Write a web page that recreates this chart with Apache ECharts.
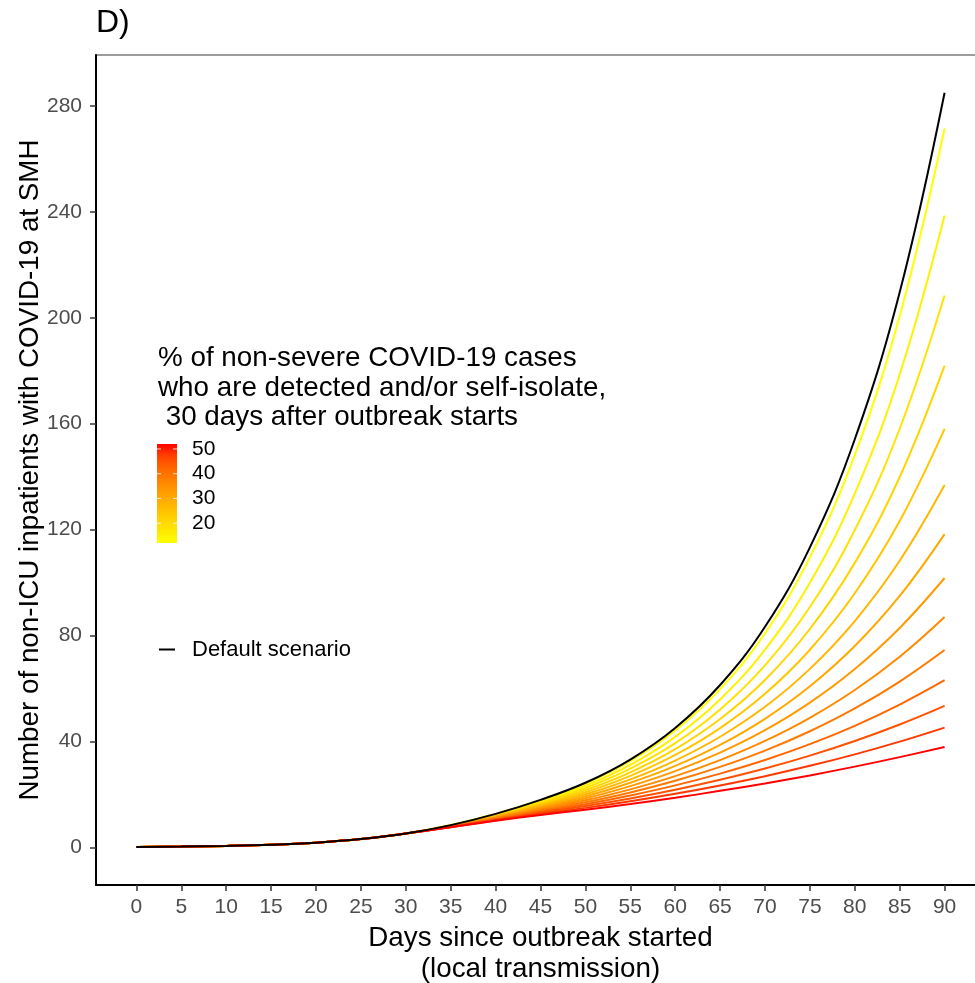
<!DOCTYPE html>
<html><head><meta charset="utf-8">
<script src="https://cdn.jsdelivr.net/npm/echarts@6/dist/echarts.min.js"></script>
<style>html,body{margin:0;padding:0;background:#fff}#c{width:975px;height:983px}</style>
</head><body><div id="c"></div><script>
// ---------------- data ----------------
const days = [0,5,10,15,20,25,30,35,40,45,50,55,60,65,70,75,80,85,90];
const xTicks = [0,5,10,15,20,25,30,35,40,45,50,55,60,65,70,75,80,85,90];
const yTicks = [0,40,80,120,160,200,240,280];
const legendTicks = [20,30,40,50];

// Default scenario (black)
const defaultScenario = [0.1,0.25,0.5,0.95,1.75,3.1,5.2,8.37,12.62,17.91,24.36,33.13,45.06,61.3,83.3,113.3,154.1,209.6,285.0];

// shared part (days 0-30) of all detection scenarios
const sharedEarly = [0.1,0.25,0.5,0.95,1.75,3.1,5.2];
// % detected / self-isolating
const pctLevels = [12,15,18,21,24,27,30,33,36,39,42,45,48,51];
// values for days 35..90, one array per scenario
const late12 = [8.35,12.55,17.75,24.05,32.57,44.12,59.76,80.85,109.48,148.21,200.64,271.5];
const late15 = [8.29,12.36,17.32,23.23,31.13,41.71,55.85,74.68,99.90,133.60,178.59,238.6];
const late18 = [8.24,12.17,16.88,22.40,29.69,39.32,52.03,68.72,90.77,119.82,158.08,208.4];
const late21 = [8.18,11.98,16.45,21.60,28.31,37.06,48.45,63.21,82.44,107.42,139.85,181.9];
const late24 = [8.12,11.78,16.02,20.80,26.95,34.86,45.01,57.96,74.61,95.93,123.20,158.0];
const late27 = [8.06,11.59,15.58,20.02,25.63,32.74,41.74,53.05,67.38,85.44,108.20,136.8];
const late30 = [8.01,11.39,15.16,19.25,24.36,30.73,38.68,48.52,60.79,76.03,94.93,118.3];
const late33 = [7.94,11.19,14.73,18.49,23.11,28.77,35.73,44.21,54.62,67.33,82.83,101.7];
const late36 = [7.88,10.99,14.30,17.73,21.88,26.88,32.93,40.17,48.90,59.39,71.97,87.0];
const late39 = [7.82,10.79,13.89,17.01,20.72,25.13,30.36,36.51,43.82,52.43,62.58,74.5];
const late42 = [7.75,10.59,13.46,16.27,19.55,23.37,27.83,32.97,38.95,45.88,53.88,63.1];
const late45 = [7.69,10.38,13.04,15.56,18.44,21.74,25.50,29.75,34.61,40.13,46.36,53.4];
const late48 = [7.62,10.18,12.63,14.88,17.40,20.22,23.37,26.86,30.76,35.09,39.90,45.2];
const late51 = [7.56,9.98,12.22,14.20,16.36,18.72,21.31,24.10,27.15,30.46,34.05,37.9];
const lateValues = [late12,late15,late18,late21,late24,late27,late30,late33,late36,late39,late42,late45,late48,late51];

// ---------------- colour scale (Lab interpolation yellow -> red) ----------------
const FONT = 'Liberation Sans, Arial, sans-serif';
const LOW = [255,255,0], HIGH = [255,0,0];
const SCALE_MIN = 12, SCALE_MAX = 51;
function toLin(c){c/=255;return c<=0.04045?c/12.92:Math.pow((c+0.055)/1.055,2.4);}
function fromLin(c){c=c<=0.0031308?12.92*c:1.055*Math.pow(c,1/2.4)-0.055;return Math.max(0,Math.min(255,Math.round(c*255)));}
const WX=0.95047,WY=1,WZ=1.08883;
function fLab(t){return t>0.008856?Math.cbrt(t):7.787*t+16/116;}
function fInv(t){const t3=t*t*t;return t3>0.008856?t3:(t-16/116)/7.787;}
function rgb2lab(c){const r=toLin(c[0]),g=toLin(c[1]),b=toLin(c[2]);
  const X=(0.4124564*r+0.3575761*g+0.1804375*b)/WX,Y=(0.2126729*r+0.7151522*g+0.0721750*b)/WY,Z=(0.0193339*r+0.1191920*g+0.9503041*b)/WZ;
  const fx=fLab(X),fy=fLab(Y),fz=fLab(Z);return [116*fy-16,500*(fx-fy),200*(fy-fz)];}
function lab2rgb(l){const fy=(l[0]+16)/116,fx=fy+l[1]/500,fz=fy-l[2]/200;
  const X=fInv(fx)*WX,Y=fInv(fy)*WY,Z=fInv(fz)*WZ;
  const r=3.2404542*X-1.5371385*Y-0.4985314*Z,g=-0.9692660*X+1.8760108*Y+0.0415560*Z,b=0.0556434*X-0.2040259*Y+1.0572252*Z;
  return 'rgb('+fromLin(r)+','+fromLin(g)+','+fromLin(b)+')';}
const labLow=rgb2lab(LOW), labHigh=rgb2lab(HIGH);
function colourFor(v){let t=(v-SCALE_MIN)/(SCALE_MAX-SCALE_MIN);t=Math.max(0,Math.min(1,t));
  return lab2rgb([0,1,2].map(k=>labLow[k]+(labHigh[k]-labLow[k])*t));}

// ---------------- series ----------------
const series = pctLevels.map((p,i)=>{
  const vals = sharedEarly.concat(lateValues[i]);
  const col = colourFor(p);
  return {type:'line', name:p+'%', data:days.map((d,j)=>[d,vals[j]]), symbol:'none', showSymbol:false,
    smooth:0.4, lineStyle:{color:col,width:2}, itemStyle:{color:col}, z:2, silent:true};
});
series.push({type:'line', name:'Default scenario', data:days.map((d,j)=>[d,defaultScenario[j]]), symbol:'none', showSymbol:false,
  smooth:0.4, lineStyle:{color:'#000',width:2}, itemStyle:{color:'#000'}, z:3, silent:true});

// ---------------- legends (colour bar + default scenario key) ----------------
const BAR_X=157, BAR_Y=444, BAR_W=20, BAR_H=99, BAR_TOP_V=52, BAR_BOT_V=12;
function barY(v){return BAR_Y+(BAR_TOP_V-v)*BAR_H/(BAR_TOP_V-BAR_BOT_V);}
const stops=[];
for(let k=0;k<=20;k++){const v=BAR_TOP_V-(BAR_TOP_V-BAR_BOT_V)*k/20;stops.push({offset:k/20,color:colourFor(v)});}
const graphics = [
  {type:'text', x:96, y:23, style:{text:'D)', font:'32px '+FONT, fill:'#000', verticalAlign:'middle'}},
  {type:'text', x:30, y:470, rotation:Math.PI/2, style:{text:'Number of non-ICU inpatients with COVID-19 at SMH',
     font:'27.8px '+FONT, fill:'#000', align:'center', verticalAlign:'middle'}},
  {type:'text', x:158, y:344, style:{text:'% of non-severe COVID-19 cases\nwho are detected and/or self-isolate,\n 30 days after outbreak starts',
     font:'27.8px '+FONT, lineHeight:29.5, fill:'#000', verticalAlign:'top'}},
  {type:'rect', shape:{x:BAR_X,y:BAR_Y,width:BAR_W,height:BAR_H}, style:{fill:new echarts.graphic.LinearGradient(0,0,0,1,stops)}},
  {type:'line', shape:{x1:159,y1:649.5,x2:175,y2:649.5}, style:{stroke:'#000',lineWidth:2}},
  {type:'text', x:192, y:650, style:{text:'Default scenario', font:'22px '+FONT, fill:'#000', verticalAlign:'middle'}}
];
legendTicks.forEach(v=>{
  const y=barY(v);
  graphics.push({type:'line', shape:{x1:BAR_X,y1:y,x2:BAR_X+4,y2:y}, style:{stroke:'rgba(255,255,255,0.8)',lineWidth:1}});
  graphics.push({type:'line', shape:{x1:BAR_X+BAR_W-4,y1:y,x2:BAR_X+BAR_W,y2:y}, style:{stroke:'rgba(255,255,255,0.8)',lineWidth:1}});
  graphics.push({type:'text', x:192, y:y, style:{text:String(v), font:'21px '+FONT, fill:'#000', verticalAlign:'middle'}});
});

const option = {
  animation:false,
  backgroundColor:'#fff',
  grid:{left:96, top:55, right:-10, bottom:98, show:true, borderColor:'#7f7f7f', borderWidth:1.3, containLabel:false, outerBoundsMode:'none'},
  xAxis:{type:'value', min:-4.5, max:94.5,
    name:'Days since outbreak started\n(local transmission)', nameLocation:'middle', nameGap:68.5,
    nameTextStyle:{fontSize:27.8, color:'#000', fontFamily:FONT, lineHeight:31, verticalAlign:'middle'},
    axisLine:{show:true, onZero:false, lineStyle:{color:'#000', width:2}},
    axisTick:{show:true, length:6, lineStyle:{color:'#333', width:1.5}, customValues:xTicks},
    axisLabel:{customValues:xTicks, color:'#4d4d4d', fontSize:21, fontFamily:FONT, margin:12},
    splitLine:{show:false}},
  yAxis:{type:'value', min:-14.25, max:299.25,
    axisLine:{show:true, onZero:false, lineStyle:{color:'#000', width:2}},
    axisTick:{show:true, length:6, lineStyle:{color:'#333', width:1.5}, customValues:yTicks},
    axisLabel:{customValues:yTicks, color:'#4d4d4d', fontSize:21, fontFamily:FONT, margin:14},
    splitLine:{show:false}},
  graphic:graphics,
  series:series
};
const chart = echarts.init(document.getElementById('c'), null, {renderer:'canvas'});
chart.setOption(option);
</script></body></html>
